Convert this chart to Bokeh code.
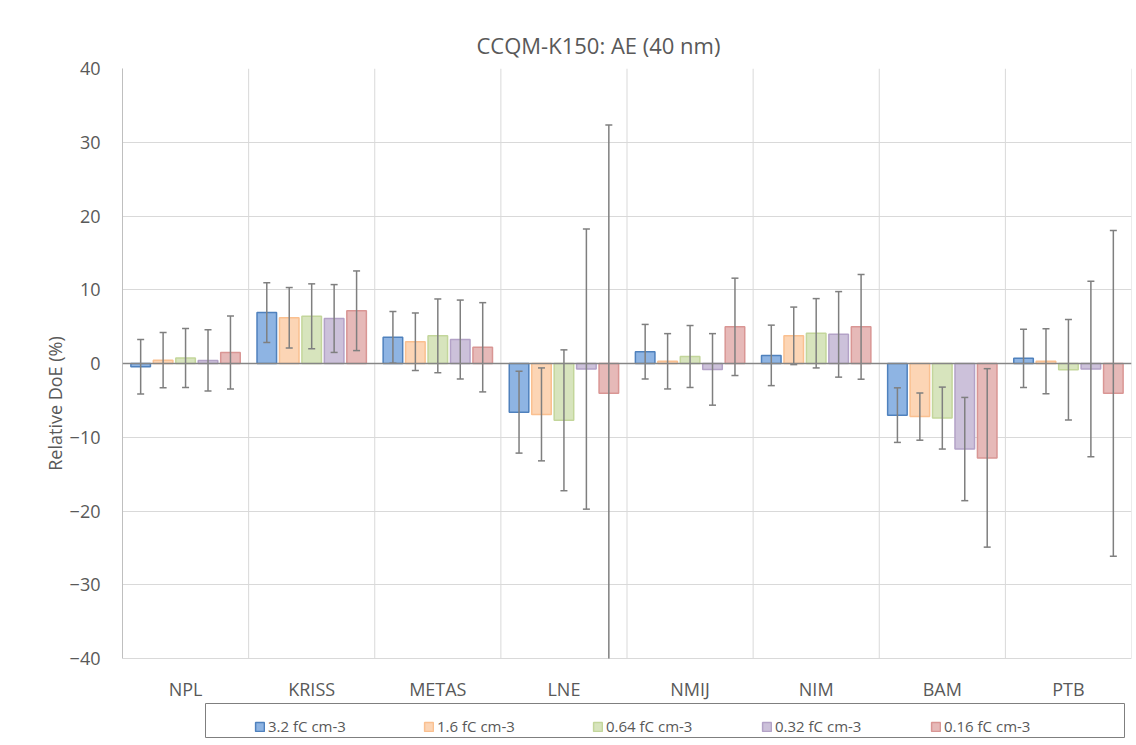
from bokeh.plotting import figure
from bokeh.models import (ColumnDataSource, FactorRange, Span, Legend, LegendItem,
                          FixedTicker, Range1d, BoxAnnotation)
from bokeh.core.properties import value
from bokeh.transform import dodge
from bokeh.embed import file_html
from bokeh.resources import INLINE

categories = ["NPL", "KRISS", "METAS", "LNE", "NMIJ", "NIM", "BAM", "PTB"]
series = ["3.2 fC cm-3", "1.6 fC cm-3", "0.64 fC cm-3", "0.32 fC cm-3", "0.16 fC cm-3"]

doe_32 = [-0.45, 6.9, 3.55, -6.6, 1.6, 1.1, -7.0, 0.7]
doe_16 = [0.45, 6.2, 2.95, -6.9, 0.3, 3.75, -7.2, 0.3]
doe_064 = [0.75, 6.4, 3.75, -7.7, 0.95, 4.1, -7.4, -0.85]
doe_032 = [0.42, 6.1, 3.25, -0.75, -0.8, 3.95, -11.6, -0.75]
doe_016 = [1.5, 7.15, 2.2, -4.05, 4.97, 4.97, -12.8, -4.05]

u_32 = [3.7, 4.05, 3.5, 5.55, 3.7, 4.1, 3.7, 3.95]
u_16 = [3.75, 4.1, 3.9, 6.3, 3.75, 3.9, 3.2, 4.4]
u_064 = [4.0, 4.4, 5.0, 9.55, 4.2, 4.7, 4.2, 6.8]
u_032 = [4.15, 4.6, 5.35, 19.0, 4.85, 5.8, 7.0, 11.9]
u_016 = [4.95, 5.4, 6.05, 36.4, 6.6, 7.1, 12.1, 22.1]

y_ticks = [-40, -30, -20, -10, 0, 10, 20, 30, 40]

values = [doe_32, doe_16, doe_064, doe_032, doe_016]
uncert = [u_32, u_16, u_064, u_032, u_016]

fills = ["#8EB4E3", "#FCD5B5", "#D7E4BD", "#CCC1DA", "#E6B9B8"]
edges = ["#4F81BD", "#FAC090", "#C3D69B", "#B3A2C7", "#D99694"]

FONT = "Open Sans"
GRAY = "#595959"
ERR = "#7F7F7F"

FRAME_LEFT, FRAME_TOP, FRAME_W = 122, 68, 1009
Y_MIN, Y_MAX = y_ticks[0], y_ticks[-1]
FRAME_H_AXIS = 590           # pixels spanned by the -40..40 axis
FRAME_H = 670                # frame extended below to hold labels + legend
px_per_unit = FRAME_H_AXIS / (Y_MAX - Y_MIN)
px_per_cat = FRAME_W / len(categories)
y_low = Y_MAX - FRAME_H / px_per_unit


def px_to_y(py):
    return Y_MAX - (py - FRAME_TOP) / px_per_unit


def px_to_x(px):
    return (px - FRAME_LEFT) / px_per_cat


p = figure(x_range=FactorRange(factors=categories, range_padding=0),
           y_range=Range1d(y_low, Y_MAX),
           frame_width=FRAME_W, frame_height=FRAME_H,
           output_backend="svg", toolbar_location=None,
           min_border_left=FRAME_LEFT, min_border_right=3, min_border_top=FRAME_TOP,
           min_border_bottom=0,
           title="CCQM-K150: AE (40 nm)")

p.title.align = "left"
p.title.offset = 354
p.title.standoff = 18
p.title.text_font = FONT
p.title.text_font_size = "22px"
p.title.text_font_style = "normal"
p.title.text_color = GRAY

p.outline_line_color = None
p.background_fill_color = "white"

# y axis
p.yaxis.ticker = FixedTicker(ticks=y_ticks)
p.yaxis.bounds = (Y_MIN, Y_MAX)
p.yaxis.axis_label = "Relative DoE (%)"
p.yaxis.axis_label_text_font = FONT
p.yaxis.axis_label_text_font_size = "18px"
p.yaxis.axis_label_text_font_style = "normal"
p.yaxis.axis_label_text_color = GRAY
p.yaxis.axis_label_standoff = 0
p.yaxis.major_label_text_font = FONT
p.yaxis.major_label_text_font_size = "18px"
p.yaxis.major_label_text_color = GRAY
p.yaxis.axis_line_color = "#BFBFBF"
p.yaxis.major_tick_line_color = None
p.yaxis.minor_tick_line_color = None
p.yaxis.major_label_standoff = 16

# x axis: labels drawn as text below the -40 line
p.xaxis.visible = False

p.ygrid.grid_line_color = "#D9D9D9"
p.ygrid.ticker = FixedTicker(ticks=y_ticks)
p.xgrid.visible = False

# vertical category separators from -40 to 40
bounds_x = list(range(0, len(categories) + 1))
p.segment(x0=bounds_x, y0=[Y_MIN] * len(bounds_x), x1=bounds_x, y1=[Y_MAX] * len(bounds_x),
          line_color="#D9D9D9", line_width=1)

label_y = Y_MIN - 30 / px_per_unit
p.text(x=categories, y=[label_y] * len(categories), text=categories,
       text_font=value(FONT), text_font_size="18px", text_color=GRAY,
       text_align="center", text_baseline="middle")

n = len(series)
step = 0.178
bar_w = 0.155
items = []
for i, (name, vals, us) in enumerate(zip(series, values, uncert)):
    off = (i - (n - 1) / 2) * step
    upper = [v + u for v, u in zip(vals, us)]
    lower = [v - u for v, u in zip(vals, us)]
    src = ColumnDataSource(dict(
        cat=categories, val=vals, upper=upper,
        lower_c=[max(lo, Y_MIN) for lo in lower],
    ))
    xs = dodge("cat", off, range=p.x_range)
    r = p.vbar(x=xs, top="val", bottom=0, width=bar_w, source=src,
               fill_color=fills[i], line_color=edges[i], line_width=1.5)
    items.append(LegendItem(label=name, renderers=[r]))
    p.segment(x0=xs, y0="lower_c", x1=xs, y1="upper", source=src,
              line_color=ERR, line_width=1.5)
    # caps (only where the end lies inside the axis range)
    cap_cats, cap_y = [], []
    for c, lo, up in zip(categories, lower, upper):
        if up <= Y_MAX:
            cap_cats.append(c); cap_y.append(up)
        if lo >= Y_MIN:
            cap_cats.append(c); cap_y.append(lo)
    csrc = ColumnDataSource(dict(cat=cap_cats, y=cap_y))
    p.scatter(x=dodge("cat", off, range=p.x_range), y="y", marker="dash", size=7,
              source=csrc, line_color=ERR, line_width=1.5)

p.add_layout(Span(location=0, dimension="width", line_color="#868686", line_width=1.5))

# legend frame
p.add_layout(BoxAnnotation(left=px_to_x(205), right=px_to_x(1124),
                           top=px_to_y(703), bottom=px_to_y(737),
                           fill_color=None, line_color="#7F7F7F", line_width=1,
                           line_alpha=1.0))

legend = Legend(items=items, orientation="horizontal", location=(132, 2),
                label_text_font=FONT, label_text_font_size="15px",
                label_text_color=GRAY, glyph_width=11, glyph_height=11,
                label_standoff=3, label_width=147, spacing=8, padding=7,
                border_line_color=None, background_fill_alpha=0,
                margin=0)
p.add_layout(legend, "center")

open("out.html", "w").write(file_html(p, INLINE))
